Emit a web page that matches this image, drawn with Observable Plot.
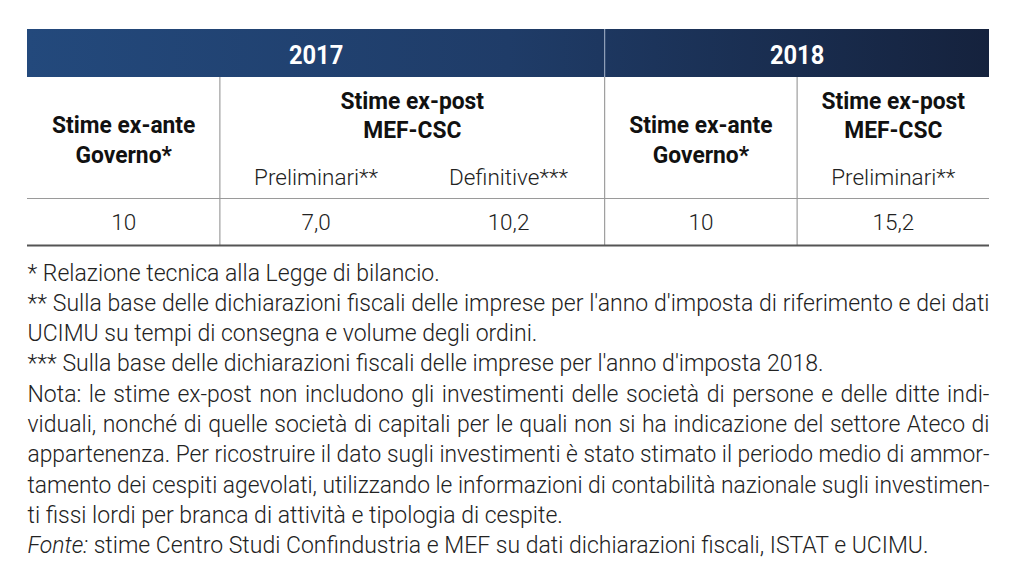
<!DOCTYPE html>
<html><head><meta charset="utf-8">
<script src="https://cdn.jsdelivr.net/npm/d3@7"></script>
<script src="https://cdn.jsdelivr.net/npm/@observablehq/plot@0.6"></script>
<style>
html,body{margin:0;padding:0;background:#fff;}
#chart svg{display:block;}
</style>
</head><body><div id="chart"></div>
<script>
// ---- data ----
const yearLabels = ["2017", "2018"];
const yearSpan = [3, 2];
const groupLabels = [["Stime ex-ante", "Governo*"], ["Stime ex-post", "MEF-CSC"], ["Stime ex-ante", "Governo*"], ["Stime ex-post", "MEF-CSC"]];
const groupSpan = [1, 2, 1, 1];
const subLabels = ["", "Preliminari**", "Definitive***", "", "Preliminari**"];
const values = [10, 7.0, 10.2, 10, 15.2];
const decimals = [0, 1, 1, 0, 1];
const notes = [
  "* Relazione tecnica alla Legge di bilancio.",
  "** Sulla base delle dichiarazioni fiscali delle imprese per l'anno d'imposta di riferimento e dei dati",
  "UCIMU su tempi di consegna e volume degli ordini.",
  "*** Sulla base delle dichiarazioni fiscali delle imprese per l'anno d'imposta 2018.",
  "Nota: le stime ex-post non includono gli investimenti delle società di persone e delle ditte indi-",
  "viduali, nonché di quelle società di capitali per le quali non si ha indicazione del settore Ateco di",
  "appartenenza. Per ricostruire il dato sugli investimenti è stato stimato il periodo medio di ammor-",
  "tamento dei cespiti agevolati, utilizzando le informazioni di contabilità nazionale sugli investimen-",
  "ti fissi lordi per branca di attività e tipologia di cespite.",
  "Fonte: stime Centro Studi Confindustria e MEF su dati dichiarazioni fiscali, ISTAT e UCIMU."
];
const justified = [false, true, false, false, true, true, true, true, false, false];

// ---- layout ----
const nCols = subLabels.length;
const hdrTop = 29, hdrBot = 77, midRule = 198, botRule = 245;
const noteTop = 280, noteStep = 30.3;

let acc = 0;
const yearRows = yearLabels.map((t, i) => { const c = acc + yearSpan[i] / 2; acc += yearSpan[i]; return {x: c, t}; });
const yearEdges = []; acc = 0; yearSpan.forEach((s, i) => { acc += s; if (i < yearSpan.length - 1) yearEdges.push(acc); });

acc = 0;
const headRows = [];
const groupEdges = [];
groupSpan.forEach((s, i) => {
  const start = acc; acc += s;
  if (i < groupSpan.length - 1) groupEdges.push(acc);
  const hasSub = subLabels.slice(start, start + s).some(d => d);
  const base = hasSub ? [108, 137.5] : [132.5, 162];
  groupLabels[i].forEach((t, j) => headRows.push({x: start + s / 2, y: base[j], t}));
});
const subRows = subLabels.map((t, i) => ({x: i + 0.5, t})).filter(d => d.t);
const valueRows = values.map((v, i) => ({x: i + 0.5, t: v.toFixed(decimals[i]).replace(".", ",")}));
const noteRows = notes.map((t, i) => ({t, y: noteTop + i * noteStep, i}));

const chart = Plot.plot({
  width: 1024, height: 585,
  marginTop: 0, marginRight: 0, marginBottom: 0, marginLeft: 0,
  x: {domain: [0, nCols], range: [27, 989], axis: null},
  y: {domain: [0, 585], range: [0, 585], axis: null},
  style: {fontFamily: "Roboto", background: "#fff", overflow: "visible"},
  marks: [
    Plot.rect([0], {x1: 0, x2: nCols, y1: hdrTop, y2: hdrBot, fill: "url(#hdrGrad)"}),
    Plot.ruleX(yearEdges, {x: d => d, y1: hdrTop, y2: hdrBot, stroke: "#a9b7cc", strokeWidth: 1}),
    Plot.ruleX(groupEdges, {x: d => d, y1: hdrBot, y2: botRule, stroke: "#8a8a8a", strokeWidth: 1}),
    Plot.ruleY([midRule], {y: d => d, x1: 0, x2: nCols, stroke: "#9a9a9a", strokeWidth: 1}),
    Plot.ruleY([botRule], {y: d => d, x1: 0, x2: nCols, stroke: "#555", strokeWidth: 2}),
    Plot.text(yearRows, {x: "x", y: 63.5, text: "t", fill: "#fff", fontSize: 25.5, fontWeight: 700, lineAnchor: "bottom", ariaDescription: "bold-head"}),
    Plot.text(headRows, {x: "x", y: "y", text: "t", fill: "#111", fontSize: 24.5, fontWeight: 700, lineAnchor: "bottom", ariaDescription: "bold-head"}),
    Plot.text(subRows, {x: "x", y: 184, text: "t", fill: "#222", fontSize: 22.5, fontWeight: 300, lineAnchor: "bottom"}),
    Plot.text(valueRows, {x: "x", y: 229, text: "t", fill: "#222", fontSize: 22.5, fontWeight: 300, lineAnchor: "bottom"}),
    Plot.text(noteRows, {x: 0, y: "y", text: "t", fill: "#222", fontSize: 23, fontWeight: 300, textAnchor: "start", lineAnchor: "bottom", ariaDescription: "notes"})
  ]
});
document.getElementById("chart").appendChild(chart);

const svg = d3.select(chart);
svg.insert("defs", ":first-child").html(
  '<linearGradient id="hdrGrad" x1="0" x2="1" y1="0" y2="0">' +
  '<stop offset="0" stop-color="#23497c"/><stop offset="0.5" stop-color="#1f3c68"/>' +
  '<stop offset="1" stop-color="#15223d"/></linearGradient>');

// condensed bold headers
svg.selectAll('g[aria-description="bold-head"] text').each(function() {
  const w = this.getComputedTextLength();
  this.setAttribute("textLength", (w * 0.93).toFixed(1));
  this.setAttribute("lengthAdjust", "spacingAndGlyphs");
});
// notes: justification and italic "Fonte:"
const fullW = 989 - 27;
svg.selectAll('g[aria-description="notes"] text').each(function(d, i) {
  const txt = notes[i];
  if (txt.startsWith("Fonte:")) {
    this.textContent = "";
    const t1 = document.createElementNS("http://www.w3.org/2000/svg", "tspan");
    t1.setAttribute("font-style", "italic"); t1.textContent = "Fonte:";
    const t2 = document.createElementNS("http://www.w3.org/2000/svg", "tspan");
    t2.textContent = txt.slice(6);
    this.appendChild(t1); this.appendChild(t2);
  }
  if (justified[i]) {
    const w = this.getComputedTextLength();
    if (w < fullW) {
      const spaces = (txt.match(/ /g) || []).length;
      this.style.wordSpacing = ((fullW - w) / spaces).toFixed(2) + "px";
    } else {
      this.setAttribute("textLength", fullW);
      this.setAttribute("lengthAdjust", "spacingAndGlyphs");
    }
  }
});
</script>
</body></html>
